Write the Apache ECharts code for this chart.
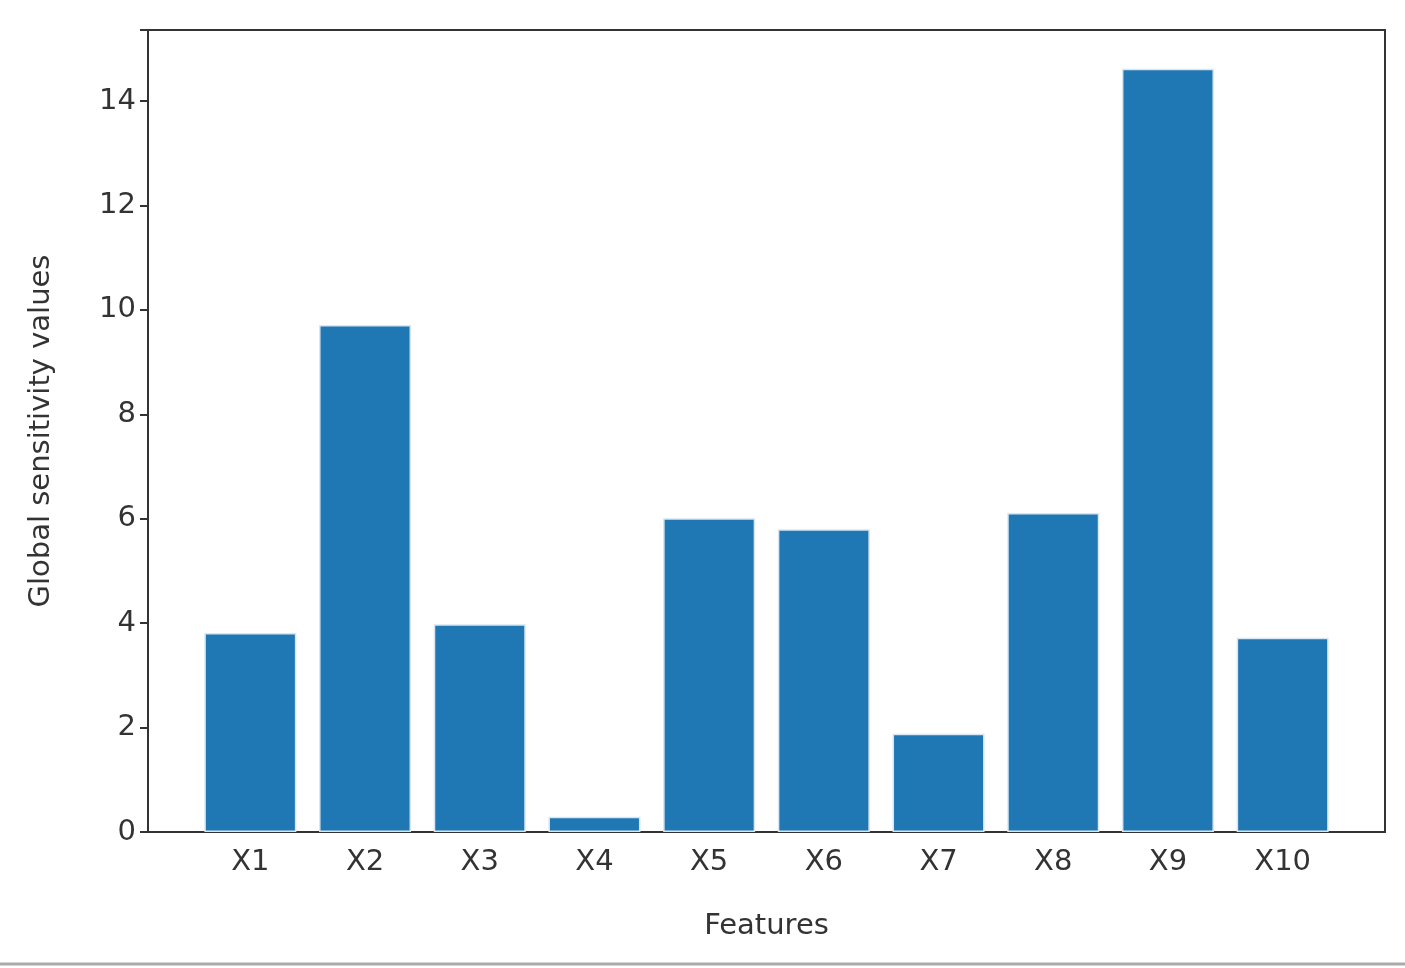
<!DOCTYPE html>
<html><head><meta charset="utf-8">
<script src="https://cdn.jsdelivr.net/npm/echarts@6/dist/echarts.min.js"></script>
<style>html,body{margin:0;padding:0;background:#fff}#c{width:1405px;height:968px}</style>
</head><body><div id="c"></div>
<script>
const categories = ['X1','X2','X3','X4','X5','X6','X7','X8','X9','X10'];
const values = [3.81, 9.71, 3.98, 0.29, 6.01, 5.80, 1.88, 6.11, 14.62, 3.72];
const yTicks = [0, 2, 4, 6, 8, 10, 12, 14];
const font = 'DejaVu Sans';
const txt = '#333';
const chart = echarts.init(document.getElementById('c'));
chart.setOption({
  animation: false,
  grid: [
    {left: 148, right: 20, top: 30, bottom: 136, show: true, borderColor: '#333', borderWidth: 2, backgroundColor: 'transparent'},
    {left: 193, right: 65, top: 30, bottom: 136}
  ],
  xAxis: [
    {gridIndex: 0, type: 'value', show: false, min: 0, max: 1},
    {gridIndex: 1, type: 'category', data: categories, boundaryGap: true,
     axisLine: {show: false}, axisTick: {alignWithLabel: true, length: 8, lineStyle: {color: '#333', width: 2}},
     axisLabel: {fontFamily: font, fontSize: 29, color: txt, margin: 16},
     name: 'Features', nameLocation: 'middle', nameGap: 80,
     nameTextStyle: {fontFamily: font, fontSize: 29, color: txt}}
  ],
  yAxis: [
    {gridIndex: 0, type: 'value', show: false, min: 0, max: 1},
    {gridIndex: 1, type: 'value', min: 0, max: 15.36, interval: 2, offset: 45,
     splitLine: {show: false}, axisLine: {show: false},
     axisTick: {show: true, length: 8, lineStyle: {color: '#333', width: 2}},
     axisLabel: {fontFamily: font, fontSize: 29, color: txt, margin: 12,
       formatter: v => yTicks.includes(v) ? String(v) : ''},
     name: 'Global sensitivity values', nameLocation: 'middle', nameGap: 92,
     nameTextStyle: {fontFamily: font, fontSize: 29, color: txt}}
  ],
  series: [{
    type: 'bar', xAxisIndex: 1, yAxisIndex: 1, data: values, barWidth: 92,
    itemStyle: {color: '#1f77b4', borderColor: '#d8e6f2', borderWidth: 1.5}
  }],
  graphic: [{type: 'line', shape: {x1: 0, y1: 964, x2: 1405, y2: 964}, style: {stroke: '#aaa', lineWidth: 3}}]
});
</script></body></html>
